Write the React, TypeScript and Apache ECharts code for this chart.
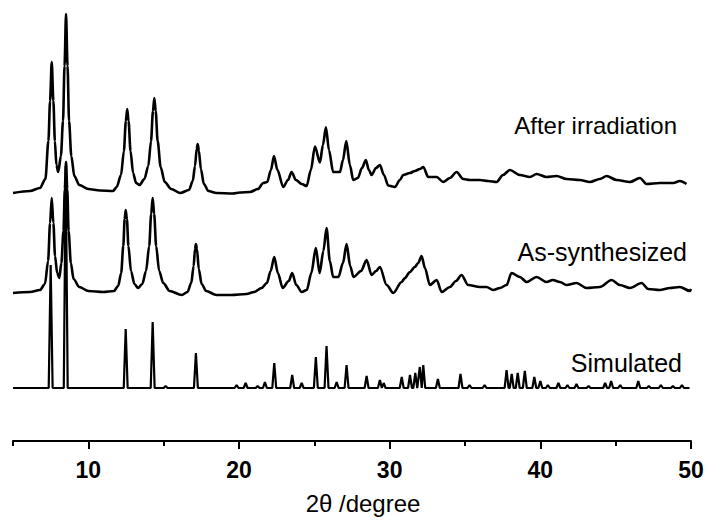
import React, { useEffect, useRef } from "react";
import * as echarts from "echarts";

// 2θ (degree) vs stacked intensity (arbitrary units, traces offset vertically)
const afterIrradiation: [number, number][] = [
  [5.0, 248], [6.13, 250], [6.79, 253], [7.15, 262], [7.35, 300], [7.46, 340], [7.57, 379], [7.68, 340],
  [7.78, 300], [7.88, 276], [8.0, 269], [8.18, 285], [8.32, 320], [8.42, 375], [8.52, 427], [8.62, 375],
  [8.72, 320], [8.87, 285], [9.07, 265], [9.4, 256], [10.0, 252], [10.77, 250.5], [11.64, 250], [11.88, 254],
  [12.17, 266], [12.36, 290], [12.49, 320], [12.58, 332], [12.67, 320], [12.8, 290], [12.97, 268], [13.17, 258],
  [13.4, 256], [13.72, 262], [13.98, 275], [14.16, 300], [14.29, 330], [14.38, 343], [14.47, 330], [14.6, 300],
  [14.8, 274], [15.07, 259], [15.5, 252], [16.1, 248], [16.68, 251], [16.93, 260], [17.08, 275], [17.19, 292],
  [17.26, 297], [17.34, 290], [17.47, 272], [17.67, 257], [17.97, 250], [18.5, 248], [19.6, 247.5], [20.06, 248.5],
  [20.73, 249], [21.26, 252], [21.61, 258], [21.87, 259], [22.12, 271], [22.32, 285], [22.55, 271], [22.94, 254],
  [23.25, 261], [23.49, 269], [23.78, 261], [24.16, 257], [24.49, 255], [24.77, 271], [25.04, 294.5], [25.37, 278.5],
  [25.57, 296], [25.77, 313.7], [25.97, 291], [26.25, 269], [26.7, 269], [26.9, 281], [27.12, 300], [27.36, 276],
  [27.58, 261], [27.89, 263], [28.16, 273], [28.42, 281], [28.62, 271], [28.8, 266], [29.09, 273], [29.35, 276],
  [29.62, 266], [29.9, 255.5], [30.35, 254], [30.68, 261], [30.9, 266], [31.34, 268], [31.67, 270], [32.01, 272],
  [32.23, 274], [32.56, 264], [33.12, 264], [33.55, 259], [34.0, 263], [34.44, 269], [34.88, 262], [35.33, 261],
  [35.99, 261], [36.52, 260], [37.1, 259], [37.52, 266], [37.98, 271], [38.64, 266], [39.31, 264], [39.75, 267],
  [40.41, 264], [41.08, 265], [41.74, 262], [42.62, 261], [43.29, 259], [43.95, 262], [44.4, 265], [45.06, 261],
  [45.95, 259], [46.61, 263], [47.05, 257], [47.93, 258], [48.82, 258], [49.26, 260], [49.7, 257],
];

const asSynthesized: [number, number][] = [
  [5.0, 148], [6.13, 149], [6.79, 151], [7.12, 157], [7.33, 180], [7.46, 218], [7.57, 243], [7.68, 218],
  [7.79, 185], [7.93, 168], [8.07, 163], [8.21, 178], [8.35, 210], [8.44, 252], [8.52, 279], [8.6, 252],
  [8.69, 210], [8.84, 178], [9.02, 162], [9.4, 154], [10.0, 150], [11.0, 149], [11.7, 150], [11.98, 155],
  [12.18, 168], [12.32, 195], [12.41, 222], [12.48, 231], [12.56, 222], [12.66, 195], [12.83, 170], [13.06, 157],
  [13.3, 153], [13.58, 157], [13.83, 170], [14.04, 195], [14.17, 227], [14.27, 243], [14.37, 227], [14.5, 195],
  [14.7, 170], [14.97, 158], [15.4, 150], [16.2, 146], [16.58, 149], [16.83, 158], [16.99, 175], [17.08, 192],
  [17.14, 197], [17.21, 192], [17.33, 172], [17.52, 157], [17.82, 150], [18.5, 146], [19.5, 146], [20.5, 147],
  [21.0, 149], [21.5, 153], [21.85, 158], [22.1, 170], [22.34, 184], [22.58, 168], [22.9, 153], [23.3, 160],
  [23.53, 168], [23.8, 156], [24.16, 149], [24.5, 151], [24.8, 168], [25.1, 193], [25.35, 168], [25.6, 190],
  [25.81, 213], [26.03, 180], [26.25, 164], [26.6, 164], [26.9, 178], [27.14, 197], [27.38, 175], [27.6, 164],
  [28.1, 170], [28.47, 181], [28.8, 166], [29.1, 170], [29.35, 174], [29.8, 156], [30.24, 148], [30.79, 159],
  [31.01, 163], [31.34, 169], [31.67, 174], [31.89, 178], [32.12, 185], [32.34, 173], [32.67, 156], [33.12, 161],
  [33.45, 149], [34.0, 154], [34.4, 160], [34.77, 166], [35.21, 156], [35.99, 154], [36.43, 154], [36.87, 151],
  [37.32, 153], [37.76, 156], [38.09, 168], [38.64, 164], [39.09, 159], [39.75, 164], [40.41, 159], [40.83, 161],
  [41.3, 159], [41.74, 156], [42.4, 158], [43.07, 153], [43.95, 154], [44.73, 161], [45.28, 156], [45.95, 153],
  [46.72, 158], [47.16, 152], [47.93, 151], [48.6, 153], [49.26, 154], [49.93, 150], [50.0, 152],
];

// Simulated pattern: peak positions (2θ) and peak tops, on a flat baseline
const simulatedBaseline = 53;
const simulatedPositions = [
  7.5, 8.5, 12.48, 14.27, 15.13, 17.14, 19.84, 20.44, 21.24, 21.72, 22.34, 23.53, 24.16, 25.1, 25.81,
  26.48, 27.14, 28.47, 29.35, 29.6, 30.8, 31.35, 31.7, 32.0, 32.23, 33.2, 34.7, 35.3, 36.3, 37.76,
  38.1, 38.5, 38.97, 39.6, 40.0, 40.5, 41.2, 41.8, 42.4, 43.2, 44.3, 44.7, 45.3, 46.5, 47.2, 48.0, 48.8, 49.4,
];
const simulatedTops = [
  176, 275, 112, 119, 55, 88, 56, 58, 55, 59, 78, 66, 58, 84, 95,
  59, 76, 65, 61, 58, 64, 66, 68, 74, 76, 62, 67, 56, 56, 71,
  67, 68, 70, 64, 60, 56, 58, 56, 57, 55, 58, 60, 56, 60, 55, 56, 55, 56,
];

const majorTicks = [10, 20, 30, 40, 50];
const minorTicks = [5, 15, 25, 35, 45];
const traceLabels = ["After irradiation", "As-synthesized", "Simulated"];

const FONT = "'Liberation Sans', Arial, Helvetica, sans-serif";

function buildSimulated(): [number, number][] {
  const pts: [number, number][] = [[5, simulatedBaseline]];
  simulatedPositions.forEach((p, i) => {
    pts.push([p - 0.13, simulatedBaseline]);
    pts.push([p, simulatedTops[i]]);
    pts.push([p + 0.13, simulatedBaseline]);
  });
  pts.push([49.9, simulatedBaseline]);
  return pts;
}

export default function App() {
  const ref = useRef<HTMLDivElement>(null);
  useEffect(() => {
    if (!ref.current) return;
    const chart = echarts.init(ref.current, undefined, { renderer: "svg" });
    const lineStyle = { color: "#000", width: 2.6, join: "round" };
    chart.setOption({
      animation: false,
      backgroundColor: "#fff",
      grid: { left: 13, right: 17, top: 0, bottom: 79, containLabel: false, outerBoundsMode: "none" },
      xAxis: [
        {
          type: "value",
          min: 5,
          max: 50,
          position: "bottom",
          axisLine: { show: true, lineStyle: { color: "#000", width: 2 } },
          axisTick: { show: true, customValues: majorTicks, length: 8, lineStyle: { color: "#000", width: 2 } },
          axisLabel: {
            customValues: majorTicks,
            fontSize: 23,
            fontWeight: "bold",
            fontFamily: FONT,
            color: "#000",
            margin: 17,
          },
          splitLine: { show: false },
          name: "2θ /degree",
          nameLocation: "middle",
          nameGap: 50,
          nameTextStyle: { fontSize: 24, fontFamily: FONT, color: "#000", padding: [0, 0, 0, 22] },
        },
        {
          type: "value",
          min: 5,
          max: 50,
          position: "bottom",
          axisLine: { show: false },
          axisTick: { show: true, customValues: minorTicks, length: 5, lineStyle: { color: "#000", width: 2 } },
          axisLabel: { show: false },
          splitLine: { show: false },
        },
      ],
      yAxis: { type: "value", min: 0, max: 441, show: false, splitLine: { show: false } },
      series: [
        { name: traceLabels[0], type: "line", data: afterIrradiation, showSymbol: false, smooth: 0.3, smoothMonotone: "x", lineStyle, xAxisIndex: 0 },
        { name: traceLabels[1], type: "line", data: asSynthesized, showSymbol: false, smooth: 0.3, smoothMonotone: "x", lineStyle, xAxisIndex: 0 },
        { name: traceLabels[2], type: "line", data: buildSimulated(), showSymbol: false, lineStyle: { color: "#000", width: 2.2 }, xAxisIndex: 0 },
      ],
      graphic: [
        { type: "text", x: 677, y: 125, style: { text: traceLabels[0], textAlign: "right", textVerticalAlign: "middle", fontSize: 24, fontFamily: FONT, fill: "#000" } },
        { type: "text", x: 687, y: 252, style: { text: traceLabels[1], textAlign: "right", textVerticalAlign: "middle", fontSize: 25, fontFamily: FONT, fill: "#000" } },
        { type: "text", x: 682, y: 363, style: { text: traceLabels[2], textAlign: "right", textVerticalAlign: "middle", fontSize: 25, fontFamily: FONT, fill: "#000" } },
      ],
    });
    return () => chart.dispose();
  }, []);
  return <div ref={ref} style={{ position: "fixed", left: 0, top: 0, width: 708, height: 520 }} />;
}
